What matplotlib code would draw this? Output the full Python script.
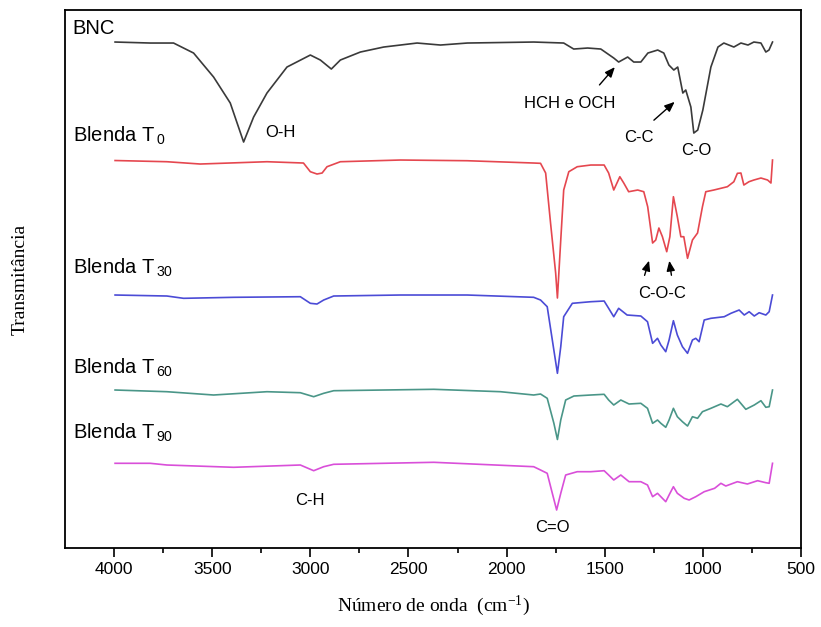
import matplotlib
matplotlib.use("Agg")
import matplotlib.pyplot as plt

plt.rcParams['font.family'] = ['Liberation Sans', 'DejaVu Sans']
plt.rcParams['mathtext.default'] = 'regular'

# spectra (wavenumber in cm-1, stacked transmittance in a.u.)
bnc_wn = [3995, 3816, 3697, 3595, 3493, 3408, 3340, 3289, 3221, 3119, 3000, 2949, 2893, 2847,
          2745, 2626, 2456, 2337, 2200, 1862, 1709, 1658, 1587, 1520, 1454, 1429, 1383, 1352,
          1316, 1280, 1230, 1199, 1173, 1148, 1128, 1102, 1087, 1061, 1046, 1026, 1000, 959,
          923, 893, 842, 806, 770, 740, 704, 679, 663, 645]
bnc_t = [506, 505, 505, 495, 471, 445, 406, 431, 455, 481, 493, 488, 479, 488,
         496, 501, 505, 503, 505, 506, 505, 499, 500, 499, 490, 486, 491, 486,
         486, 495, 498, 495, 483, 478, 481, 455, 458, 441, 415, 418, 438, 481,
         501, 505, 501, 505, 503, 506, 505, 496, 498, 506]

t0_wn = [3995, 3731, 3561, 3221, 3035, 3000, 2966, 2940, 2915, 2847, 2541, 2201, 1862, 1827,
         1801, 1776, 1750, 1741, 1724, 1709, 1683, 1640, 1571, 1503, 1480, 1454, 1423, 1403,
         1378, 1332, 1301, 1281, 1256, 1240, 1224, 1206, 1184, 1168, 1150, 1130, 1112, 1097,
         1078, 1053, 1027, 1002, 985, 944, 875, 842, 824, 806, 791, 765, 740, 704, 670, 653, 645]
t0_t = [387.5, 386.3, 384, 386.3, 385, 376.3, 374, 375, 381.3, 386.3, 388, 387.3, 385, 384.7,
        375, 325, 275, 250, 308, 358, 376.3, 381.3, 383, 383, 375, 358, 371.3, 365,
        356.3, 358, 356.3, 341.3, 305, 308, 320, 311.3, 296.3, 311.3, 351.3, 331.3, 311.3, 311.3,
        289.7, 308, 315, 341.3, 356.3, 358, 361.3, 366.3, 374.7, 375, 363, 366.3, 368, 370, 368, 365, 388]

t30_wn = [3995, 3731, 3646, 3391, 3051, 3000, 2966, 2932, 2881, 2541, 2201, 1862, 1827, 1793,
          1767, 1741, 1724, 1709, 1665, 1571, 1503, 1480, 1454, 1429, 1386, 1316, 1282, 1256,
          1231, 1214, 1189, 1172, 1150, 1130, 1104, 1078, 1053, 1036, 1019, 993, 959, 891,
          857, 815, 789, 764, 738, 713, 679, 662, 645]
t30_t = [253, 252, 249.7, 250.7, 251.3, 244.7, 244, 248, 252, 253, 253, 250.7, 248, 241.3,
         208, 174.7, 201.3, 231.3, 244.7, 246.3, 247, 239.7, 231.3, 239.7, 233, 232, 226.3, 204.7,
         209.7, 203, 196.3, 208, 227.3, 213, 201.3, 194.7, 208, 209.7, 206.3, 228, 229.7, 231.3,
         234.7, 238, 233, 236.3, 232, 235.3, 233, 236.3, 253]

t60_wn = [3995, 3731, 3493, 3221, 3051, 2983, 2932, 2881, 2371, 2031, 1862, 1827, 1793, 1759,
          1741, 1724, 1699, 1657, 1571, 1503, 1480, 1454, 1418, 1376, 1316, 1282, 1256, 1231,
          1214, 1189, 1172, 1150, 1130, 1104, 1078, 1053, 1027, 1002, 959, 908, 875, 824,
          781, 738, 704, 679, 662, 645]
t60_t = [158, 156.3, 153, 156.3, 155.3, 151.3, 154.7, 157.3, 158.7, 156.3, 153, 154, 149.7, 124.7,
         108.5, 128, 148, 152, 153, 153.7, 148, 143, 148, 144, 144.7, 139.7, 124.7, 128,
         124.7, 120.7, 128, 139.7, 131.3, 126.3, 122, 131.3, 129.7, 136.3, 139.7, 144, 141.3, 148.7,
         138.7, 143, 147.3, 140.7, 141.3, 158]

t90_wn = [3995, 3816, 3731, 3391, 3051, 2983, 2932, 2881, 2371, 1862, 1827, 1793, 1767, 1745,
          1724, 1699, 1640, 1571, 1503, 1480, 1454, 1418, 1376, 1316, 1282, 1256, 1231, 1214,
          1189, 1172, 1150, 1130, 1095, 1070, 1036, 993, 940, 908, 883, 824, 773, 721, 679, 662, 645]
t90_t = [84.7, 84.7, 83, 80.7, 83, 77.3, 81.3, 83.7, 85.7, 81.3, 78, 74.7, 54.7, 38,
         54.7, 73, 76.3, 76.3, 77.3, 73, 68, 73, 66.3, 66.3, 63, 51.3, 54.7, 51.3,
         46.3, 53, 61.3, 54.7, 49.7, 48, 51.3, 56.3, 59.7, 64.7, 62, 66.3, 64, 67.3, 65.3, 64.7, 84.7]

series = [
    (bnc_wn, bnc_t, '#3a3a3a', 'BNC', 520),
    (t0_wn, t0_t, '#e5474f', 'Blenda T$_{\\,0}$', 412),
    (t30_wn, t30_t, '#4b4bd6', 'Blenda T$_{\\,30}$', 280),
    (t60_wn, t60_t, '#4a9688', 'Blenda T$_{\\,60}$', 180),
    (t90_wn, t90_t, '#d94fd9', 'Blenda T$_{\\,90}$', 115),
]

fig = plt.figure(figsize=(8.21, 6.27), dpi=100)
ax = fig.add_axes([0.0792, 0.126, 0.8964, 0.858])

for wn, t, c, name, ly in series:
    ax.plot(wn, t, color=c, lw=1.2)
    ax.text(4210, ly, name, fontsize=14.5, ha='left', va='center')

lab = dict(fontsize=12, ha='center', va='center')
ax.text(3153, 416, 'O-H', **lab)
ax.text(1676, 445, 'HCH e OCH', **lab)
ax.text(1327, 411, 'C-C', **lab)
ax.text(1031, 398, 'C-O', **lab)
ax.text(1209, 255, 'C-O-C', **lab)
ax.text(3000, 48, 'C-H', **lab)
ax.text(1765, 20, 'C=O', **lab)

arr = dict(arrowstyle='-|>,head_length=0.6,head_width=0.25', color='black', lw=1)
ax.annotate('', xy=(1439, 483), xytext=(1536, 461), arrowprops=arr)
ax.annotate('', xy=(1133, 448), xytext=(1260, 426), arrowprops=arr)
ax.annotate('', xy=(1270, 290), xytext=(1301, 270), arrowprops=arr)
ax.annotate('', xy=(1173, 290), xytext=(1158, 270), arrowprops=arr)

ax.set_xlim(4250, 500)
ax.set_ylim(0, 538)
ax.set_xticks([4000, 3500, 3000, 2500, 2000, 1500, 1000, 500])
ax.set_xticks([3750, 3250, 2750, 2250, 1750, 1250, 750], minor=True)
ax.set_yticks([])
ax.tick_params(axis='x', which='major', direction='out', length=6.5, width=1.2, labelsize=12.5)
ax.tick_params(axis='x', which='minor', direction='out', length=3.5, width=1.2)
for s in ax.spines.values():
    s.set_linewidth(1.3)

ax.set_xlabel('Número de onda  (cm$^{-1}$)', family='Liberation Serif', fontsize=14, labelpad=12)
ax.set_ylabel('Transmitância', family='Liberation Serif', fontsize=14, labelpad=26)

fig.savefig('out.png', dpi=100)
